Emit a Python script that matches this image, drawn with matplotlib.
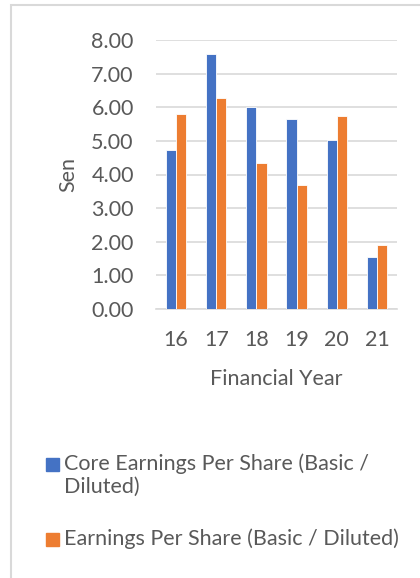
import numpy as np
import matplotlib
matplotlib.use("Agg")
from matplotlib import pyplot as plt
from matplotlib.patches import Rectangle

# Data
years = ["16", "17", "18", "19", "20", "21"]
core_eps = [4.74, 7.59, 6.00, 5.65, 5.04, 1.56]
eps = [5.81, 6.28, 4.33, 3.69, 5.74, 1.90]
series_names = ["Core Earnings Per Share (Basic /\nDiluted)",
                "Earnings Per Share (Basic / Diluted)"]

BLUE = "#4472C4"
ORANGE = "#ED7D31"
TXT = "#595959"
GRID = "#D9D9D9"
FS = 15.5

plt.rcParams["font.family"] = ["Lato", "DejaVu Sans"]

W, H = 420, 578
fig = plt.figure(figsize=(W / 100, H / 100), dpi=100)
ax = fig.add_axes([156 / W, 1 - 309 / H, (397 - 156) / W, (309 - 40) / H])

x = np.arange(len(years))
bw = 0.255
ax.bar(x - bw / 2, core_eps, bw, color=BLUE, edgecolor="white", linewidth=0.6, zorder=3)
ax.bar(x + bw / 2, eps, bw, color=ORANGE, edgecolor="white", linewidth=0.6, zorder=3)

ax.set_xlim(-0.5, len(years) - 0.5)
ax.set_ylim(0, 8)
ax.set_yticks(np.arange(0, 9, 1))
ax.set_yticklabels(["%.2f" % v for v in np.arange(0, 9, 1)])
ax.set_xticks(x)
ax.set_xticklabels(years)
ax.tick_params(axis="both", length=0, labelsize=FS, colors=TXT)
ax.tick_params(axis="y", pad=16)
ax.tick_params(axis="x", pad=15)
ax.grid(axis="y", color=GRID, linewidth=1.2, zorder=0)
for s in ["top", "right", "left"]:
    ax.spines[s].set_visible(False)
ax.spines["bottom"].set_color(GRID)
ax.spines["bottom"].set_linewidth(1.2)

ax.set_ylabel("Sen", fontsize=FS, color=TXT, labelpad=9)
ax.set_xlabel("Financial Year", fontsize=FS, color=TXT, labelpad=14)

# legend drawn by hand to mimic the wrapped Excel legend
leg_y = [465, 540]
for col, name, yy in zip([BLUE, ORANGE], series_names, leg_y):
    fig.patches.append(Rectangle((46 / W, 1 - (yy + 6) / H), 13 / W, 13 / H,
                                 transform=fig.transFigure, color=col))
    fig.text(64 / W, 1 - (yy - 12) / H, name, fontsize=FS, color=TXT,
             va="top", ha="left", linespacing=1.2)

# chart frame
fig.patches.append(Rectangle((11 / W, -0.01), 1.0, 1 - 5 / H + 0.01,
                             transform=fig.transFigure, fill=False,
                             edgecolor=GRID, linewidth=1.5))

fig.savefig("out.png", dpi=100)
